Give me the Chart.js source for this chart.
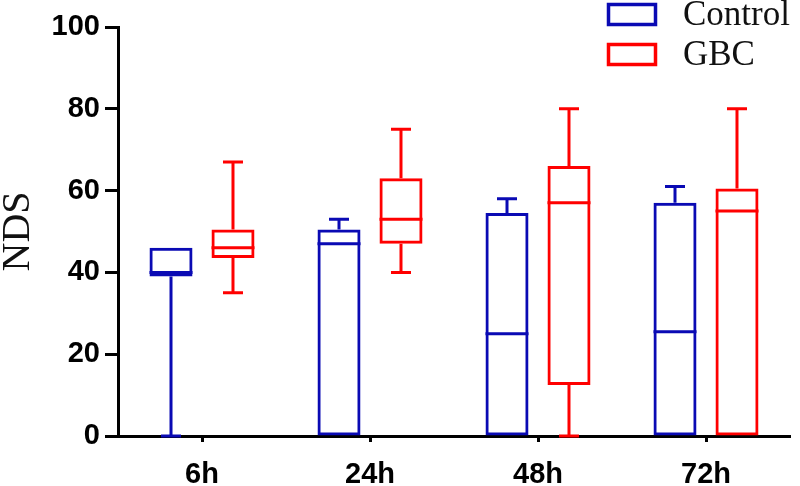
<!DOCTYPE html>
<html>
<head>
<meta charset="utf-8">
<script src="https://cdn.jsdelivr.net/npm/chart.js@4"></script>
<style>
  html, body { margin: 0; padding: 0; background: #fff; }
  canvas { display: block; }
</style>
</head>
<body>
<canvas id="grafico" width="800" height="486"></canvas>
<script>
// Dados (box plot: min, q1, mediana, q3, max)
const categories = ['6h', '24h', '48h', '72h'];
const yTicks = [0, 20, 40, 60, 80, 100];

const controlMin = [0, 0, 0, 0];
const controlQ1 = [39, 0, 0, 0];
const controlMedian = [40, 47, 25, 25.5];
const controlQ3 = [46, 50.5, 54.5, 57];
const controlMax = [46, 53, 58, 61];

const gbcMin = [35, 40, 0, 0];
const gbcQ1 = [43.5, 47, 12.5, 0];
const gbcMedian = [46, 53, 57, 55];
const gbcQ3 = [50.5, 63, 66, 60.5];
const gbcMax = [67, 75, 80, 80];

const AZUL = '#0a0ab4';
const VERMELHO = '#ff0000';

// Desenha mediana e bigodes em cima das caixas (barras flutuantes)
const bigodes = {
  id: 'bigodes',
  afterDatasetsDraw(chart) {
    const ctx = chart.ctx;
    const y = chart.scales.y;
    chart.data.datasets.forEach((ds, di) => {
      const meta = chart.getDatasetMeta(di);
      meta.data.forEach((bar, i) => {
        const x = bar.x;
        const half = bar.width / 2;
        const capHalf = 10;
        const yQ1 = y.getPixelForValue(ds.q1[i]);
        const yQ3 = y.getPixelForValue(ds.q3[i]);
        const yMed = y.getPixelForValue(ds.median[i]);
        const yMin = y.getPixelForValue(ds.min[i]);
        const yMax = y.getPixelForValue(ds.max[i]);
        ctx.save();
        ctx.strokeStyle = ds.borderColor;
        ctx.lineWidth = 3;
        ctx.beginPath();
        // mediana
        ctx.moveTo(x - half, yMed);
        ctx.lineTo(x + half, yMed);
        // bigode superior
        if (ds.max[i] > ds.q3[i]) {
          ctx.moveTo(x, yQ3);
          ctx.lineTo(x, yMax);
          ctx.moveTo(x - capHalf, yMax);
          ctx.lineTo(x + capHalf, yMax);
        }
        // bigode inferior
        if (ds.min[i] < ds.q1[i]) {
          ctx.moveTo(x, yQ1);
          ctx.lineTo(x, yMin);
          ctx.moveTo(x - capHalf, yMin);
          ctx.lineTo(x + capHalf, yMin);
        }
        ctx.stroke();
        ctx.restore();
      });
    });
  }
};

// Legenda no canto superior direito, em coluna
const legenda = {
  id: 'legenda',
  afterDraw(chart) {
    const ctx = chart.ctx;
    ctx.save();
    chart.data.datasets.forEach((ds, i) => {
      const top = 4 + i * 40;
      ctx.strokeStyle = ds.borderColor;
      ctx.lineWidth = 3.5;
      ctx.strokeRect(608.5, top + 0.5, 47, 20);
      ctx.fillStyle = '#111';
      ctx.font = '35px "Liberation Serif", "Times New Roman", serif';
      ctx.textBaseline = 'middle';
      ctx.textAlign = 'left';
      ctx.fillText(ds.label, 683, top + 12);
    });
    ctx.restore();
  }
};

const datasets = [
  {
    label: 'Control',
    data: categories.map((c, i) => [controlQ1[i], controlQ3[i]]),
    min: controlMin, q1: controlQ1, median: controlMedian, q3: controlQ3, max: controlMax,
    backgroundColor: 'rgba(0,0,0,0)',
    borderColor: AZUL,
    borderWidth: 3,
    borderSkipped: false
  },
  {
    label: 'GBC',
    data: categories.map((c, i) => [gbcQ1[i], gbcQ3[i]]),
    min: gbcMin, q1: gbcQ1, median: gbcMedian, q3: gbcQ3, max: gbcMax,
    backgroundColor: 'rgba(0,0,0,0)',
    borderColor: VERMELHO,
    borderWidth: 3,
    borderSkipped: false
  }
];

const ctx = document.getElementById('grafico').getContext('2d');
new Chart(ctx, {
  type: 'bar',
  data: { labels: categories, datasets: datasets },
  options: {
    responsive: false,
    animation: false,
    devicePixelRatio: 1,
    categoryPercentage: 0.738,
    barPercentage: 0.694,
    layout: { padding: { top: 27, right: 10, bottom: 0, left: 0 } },
    plugins: {
      legend: { display: false },
      tooltip: { enabled: false }
    },
    scales: {
      x: {
        offset: true,
        grid: { display: true, drawOnChartArea: false, drawTicks: true, tickLength: 6, tickWidth: 3, tickColor: '#000', offset: false },
        border: { display: true, width: 3, color: '#000' },
        ticks: {
          color: '#000',
          padding: 16,
          font: { family: '"Liberation Sans", Arial, sans-serif', size: 29, weight: 'bold' }
        },
        afterFit: (scale) => { scale.height = 50; }
      },
      y: {
        min: 0,
        max: 100,
        afterBuildTicks: (scale) => { scale.ticks = yTicks.map(v => ({ value: v })); },
        grid: { display: true, drawOnChartArea: false, drawTicks: true, tickLength: 13, tickWidth: 3, tickColor: '#000' },
        border: { display: true, width: 3, color: '#000' },
        ticks: {
          color: '#000',
          padding: 5,
          font: { family: '"Liberation Sans", Arial, sans-serif', size: 29, weight: 'bold' }
        },
        title: {
          display: true,
          text: 'NDS',
          color: '#111',
          padding: 0,
          font: { family: '"Liberation Serif", "Times New Roman", serif', size: 40, lineHeight: 0.9 }
        },
        afterFit: (scale) => { scale.width = 118; }
      }
    }
  },
  plugins: [bigodes, legenda]
});
</script>
</body>
</html>
